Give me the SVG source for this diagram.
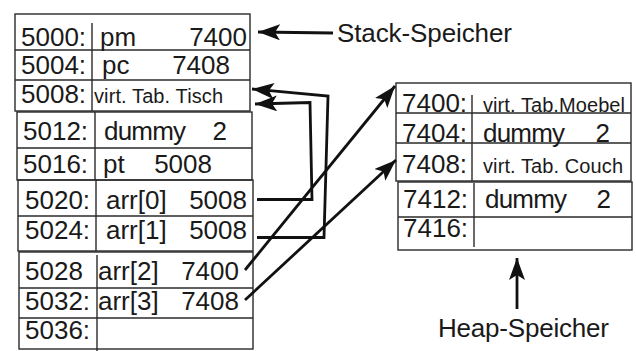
<svg xmlns="http://www.w3.org/2000/svg" width="636" height="351" viewBox="0 0 636 351">
<style>
.box{fill:none;stroke:#2a2a2a;stroke-width:1.4}
.t{font-family:"Liberation Sans",Arial,sans-serif;font-size:26px;fill:#1a1a1a}
.s{font-family:"Liberation Sans",Arial,sans-serif;font-size:20px;fill:#1a1a1a}
.e{text-anchor:end}
.c{fill:none;stroke:#111;stroke-width:2.8;stroke-linejoin:miter}
</style>
<defs>
<marker id="ah" markerUnits="userSpaceOnUse" markerWidth="24" markerHeight="18" refX="22" refY="8" orient="auto">
<path d="M0,0 L22,8 L0,16 L5,8 z" fill="#111"/>
</marker>
</defs>
<g id="stack-a">
<rect class="box" x="15" y="14" width="235" height="97"/>
<line class="box" x1="15" y1="50" x2="250" y2="50"/>
<line class="box" x1="15" y1="80" x2="250" y2="80"/>
<line class="box" x1="92" y1="23" x2="92" y2="111"/>
<text class="t" x="21" y="46">5000:</text><text class="t" x="100" y="46">pm</text><text class="t e" x="247" y="46">7400</text>
<text class="t" x="21" y="74">5004:</text><text class="t" x="102" y="74">pc</text><text class="t e" x="230" y="74">7408</text>
<text class="t" x="21" y="103">5008:</text><text class="s" x="94" y="103" textLength="129">virt. Tab. Tisch</text>
</g>
<g id="stack-b">
<rect class="box" x="17" y="112" width="235" height="68"/>
<line class="box" x1="17" y1="148" x2="252" y2="148"/>
<line class="box" x1="95" y1="112" x2="95" y2="180"/>
<text class="t" x="23" y="140">5012:</text><text class="t" x="104" y="140" textLength="82">dummy</text><text class="t e" x="227" y="140">2</text>
<text class="t" x="23" y="173">5016:</text><text class="t" x="103" y="173">pt</text><text class="t e" x="212" y="173">5008</text>
</g>
<g id="stack-c">
<rect class="box" x="18" y="180" width="235" height="71"/>
<line class="box" x1="18" y1="216" x2="253" y2="216"/>
<line class="box" x1="96" y1="180" x2="96" y2="251"/>
<text class="t" x="25" y="208.5">5020:</text><text class="t" x="106" y="208.5">arr[0]</text><text class="t e" x="247" y="208.5">5008</text>
<text class="t" x="25" y="238.5">5024:</text><text class="t" x="106" y="238.5">arr[1]</text><text class="t e" x="247" y="238.5">5008</text>
</g>
<g id="stack-d">
<rect class="box" x="19" y="252" width="234" height="97"/>
<line class="box" x1="19" y1="288" x2="253" y2="288"/>
<line class="box" x1="19" y1="318" x2="253" y2="318"/>
<line class="box" x1="97" y1="255" x2="97" y2="351"/>
<text class="t" x="25" y="280">5028</text><text class="t" x="98" y="280">arr[2]</text><text class="t e" x="239" y="280">7400</text>
<text class="t" x="25" y="309.5">5032:</text><text class="t" x="98" y="309.5">arr[3]</text><text class="t e" x="239" y="309.5">7408</text>
<text class="t" x="25" y="338.5">5036:</text>
</g>
<g id="heap-a">
<rect class="box" x="396" y="83" width="235" height="98"/>
<line class="box" x1="396" y1="113" x2="631" y2="113"/>
<line class="box" x1="396" y1="143" x2="631" y2="143"/>
<line class="box" x1="472" y1="95" x2="472" y2="181"/>
<text class="t" x="402" y="112">7400:</text><text class="s" x="483" y="112" textLength="142">virt. Tab.Moebel</text>
<text class="t" x="402" y="142">7404:</text><text class="t" x="483" y="142" textLength="82">dummy</text><text class="t e" x="610" y="142">2</text>
<text class="t" x="402" y="173">7408:</text><text class="s" x="483" y="173" textLength="140">virt. Tab. Couch</text>
</g>
<g id="heap-b">
<rect class="box" x="398" y="182" width="234" height="68"/>
<line class="box" x1="398" y1="217" x2="632" y2="217"/>
<line class="box" x1="474" y1="183" x2="474" y2="247"/>
<text class="t" x="403" y="207.5">7412:</text><text class="t" x="485" y="207.5" textLength="82">dummy</text><text class="t e" x="611" y="207.5">2</text>
<text class="t" x="403" y="236.5">7416:</text>
</g>
<g id="labels">
<text class="t" x="337" y="42" textLength="175">Stack-Speicher</text>
<text class="t" x="438" y="337" textLength="171">Heap-Speicher</text>
</g>
<g id="connectors">
<line class="c" x1="333" y1="33" x2="258" y2="32" marker-end="url(#ah)"/>
<line class="c" x1="517" y1="309" x2="517" y2="258" marker-end="url(#ah)"/>
<polyline class="c" points="257,237.5 324,237.5 328,96 252,89" marker-end="url(#ah)"/>
<polyline class="c" points="257,199.5 312,199.5 310,102.5 255,104" marker-end="url(#ah)"/>
<line class="c" x1="245" y1="270" x2="395" y2="86" marker-end="url(#ah)"/>
<line class="c" x1="245" y1="300" x2="396" y2="160" marker-end="url(#ah)"/>
</g>
</svg>
